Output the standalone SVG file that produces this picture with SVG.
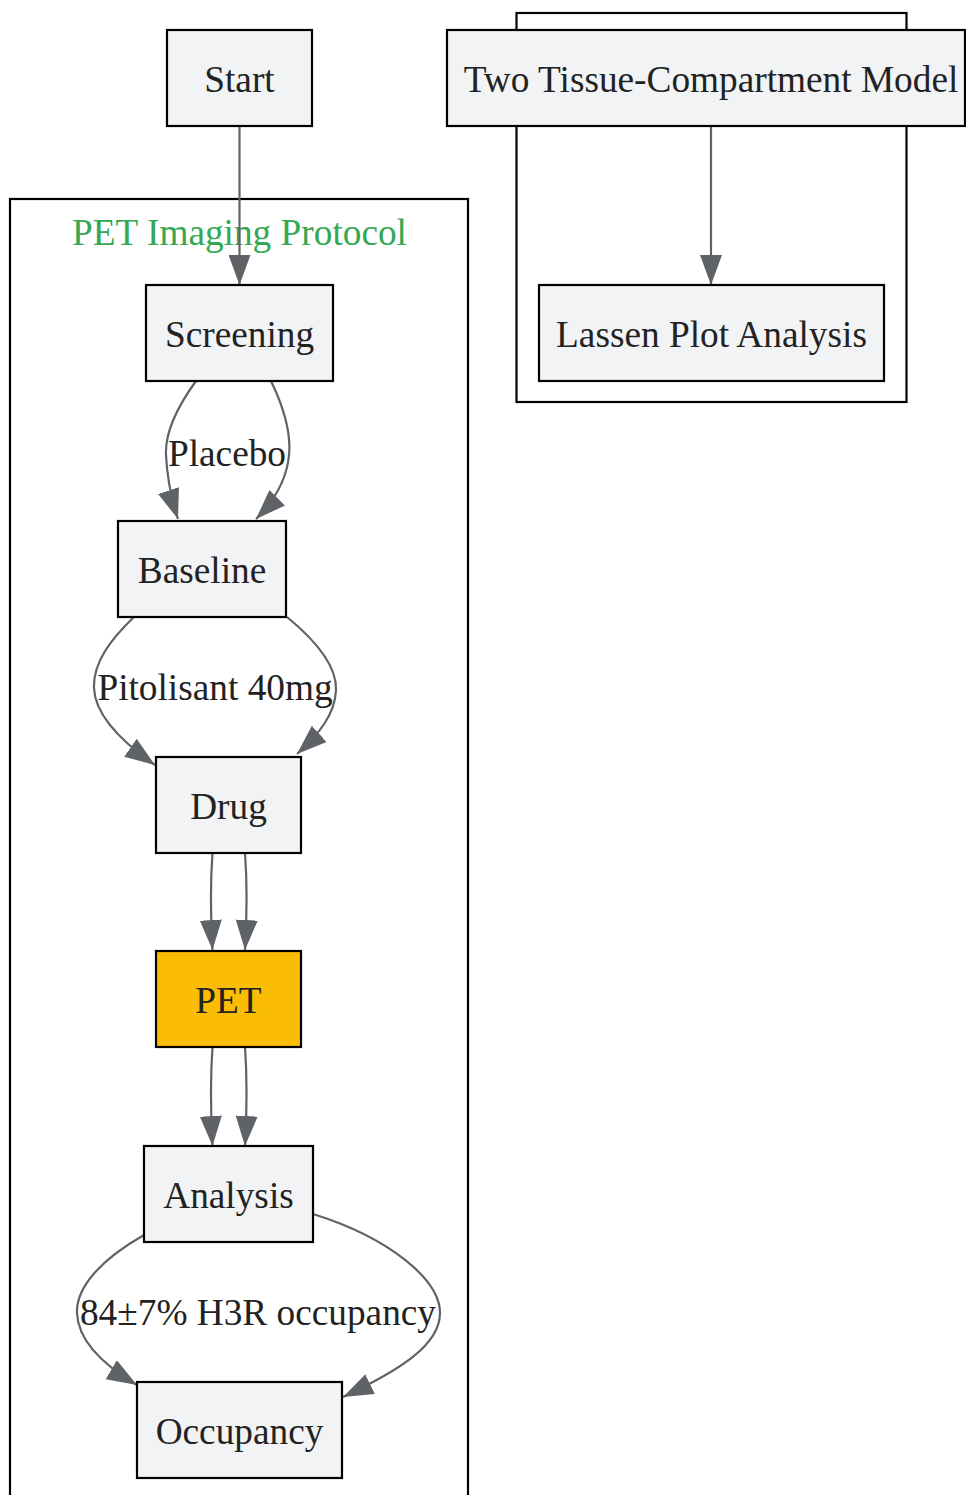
<svg xmlns="http://www.w3.org/2000/svg" width="966" height="1495" viewBox="0 0 966 1495">
<style>
.cluster{fill:none;stroke:#000;stroke-width:2.2}
.node rect{fill:#f1f3f4;stroke:#000;stroke-width:2.2}
.node.hl rect{fill:#fbbc04}
text{font-family:"Liberation Serif","Times New Roman",serif;font-size:37.3px;fill:#222;text-anchor:middle}
.clabel{fill:#34a853}
.edge{fill:none;stroke:#5f6368;stroke-width:2.2}
</style>
<defs>
<marker id="arr" viewBox="0 0 30 22" refX="30" refY="11" markerWidth="30" markerHeight="22" markerUnits="userSpaceOnUse" orient="auto">
<path d="M0,0 L30,11 L0,22 z" fill="#5f6368"/>
</marker>
</defs>
<rect x="0" y="0" width="966" height="1495" fill="#fff"/>
<g id="cluster-pet">
<rect class="cluster" x="10" y="199" width="458" height="1310"/>
<text class="clabel" x="239.5" y="245">PET Imaging Protocol</text>
</g>
<g id="cluster-model">
<rect class="cluster" x="516.5" y="13" width="390" height="389"/>
</g>
<g id="edges">
<path class="edge" d="M239.5,126 L239.5,285" marker-end="url(#arr)"/>
<path class="edge" d="M711,126 L711,285" marker-end="url(#arr)"/>
<path class="edge" d="M196,381 C175,410 165,435 166,455 C167,475 171,498 178,519" marker-end="url(#arr)"/>
<path class="edge" d="M271,381 C285,410 291,435 289,455 C287,478 275,500 256,519" marker-end="url(#arr)"/>
<path class="edge" d="M134,617 C110,640 93,663 94,688 C95,715 122,742 155,765" marker-end="url(#arr)"/>
<path class="edge" d="M287,617 C315,640 337,665 336,690 C335,715 318,735 297,754" marker-end="url(#arr)"/>
<path class="edge" d="M212.5,853 C210.5,880 210.5,915 212.5,950" marker-end="url(#arr)"/>
<path class="edge" d="M245,853 C247,880 247,915 245,950" marker-end="url(#arr)"/>
<path class="edge" d="M212.5,1047 C210.5,1075 210.5,1110 212.5,1146" marker-end="url(#arr)"/>
<path class="edge" d="M245,1047 C247,1075 247,1110 245,1146" marker-end="url(#arr)"/>
<path class="edge" d="M144,1235 C100,1260 76,1288 77,1313 C78,1340 100,1363 137,1385" marker-end="url(#arr)"/>
<path class="edge" d="M313,1214 C390,1238 440,1280 440,1313 C440,1345 400,1370 343,1397" marker-end="url(#arr)"/>
<text x="227" y="466">Placebo</text>
<text x="215" y="700">Pitolisant 40mg</text>
<text x="258" y="1325">84±7% H3R occupancy</text>
</g>
<g id="node-start" class="node"><rect x="167" y="30" width="145" height="96"/><text x="239.5" y="92">Start</text></g>
<g id="node-model" class="node"><rect x="447" y="30" width="518" height="96"/><text x="711" y="92">Two Tissue-Compartment Model</text></g>
<g id="node-lassen" class="node"><rect x="539" y="285" width="345" height="96"/><text x="711.5" y="347">Lassen Plot Analysis</text></g>
<g id="node-screening" class="node"><rect x="146" y="285" width="187" height="96"/><text x="239.5" y="347">Screening</text></g>
<g id="node-baseline" class="node"><rect x="118" y="521" width="168" height="96"/><text x="202" y="583">Baseline</text></g>
<g id="node-drug" class="node"><rect x="156" y="757" width="145" height="96"/><text x="228.5" y="819">Drug</text></g>
<g id="node-pet" class="node hl"><rect x="156" y="951" width="145" height="96"/><text x="228.5" y="1013">PET</text></g>
<g id="node-analysis" class="node"><rect x="144" y="1146" width="169" height="96"/><text x="228.5" y="1208">Analysis</text></g>
<g id="node-occupancy" class="node"><rect x="137" y="1382" width="205" height="96"/><text x="239.5" y="1444">Occupancy</text></g>
</svg>
